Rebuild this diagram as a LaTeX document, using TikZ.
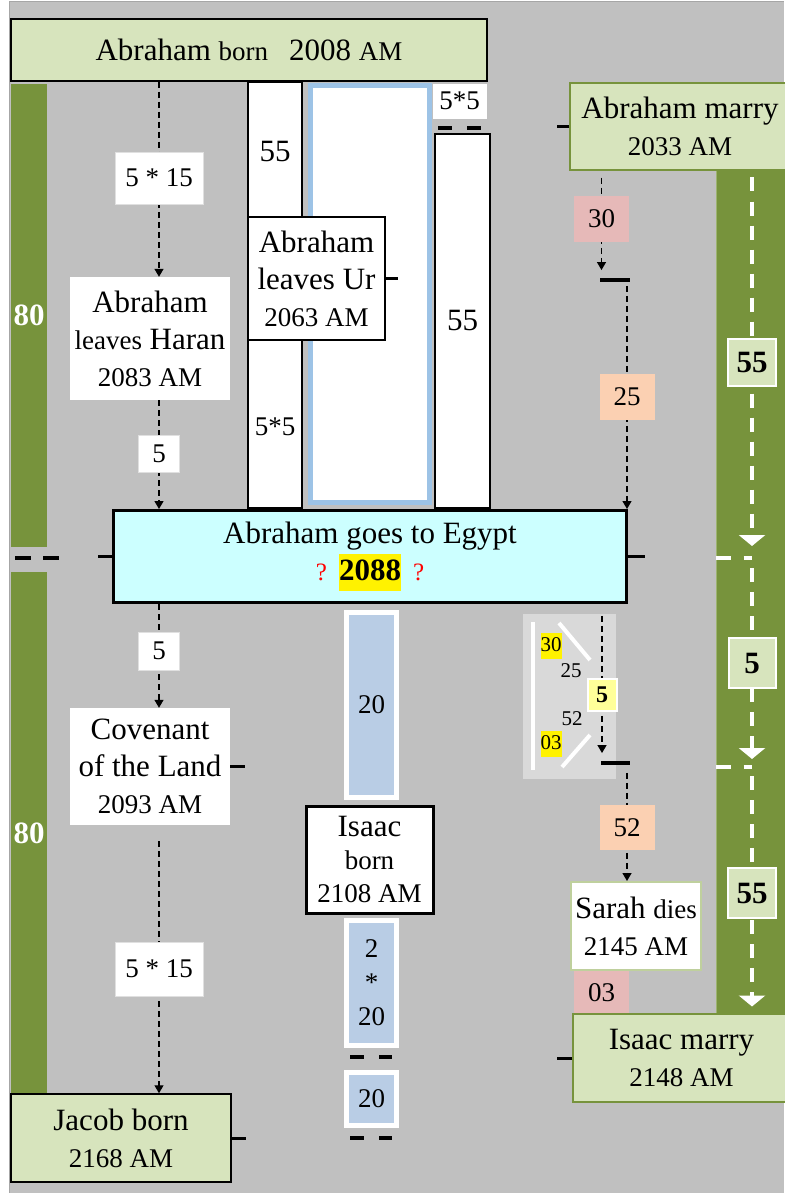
\documentclass[tikz,border=0pt]{standalone}
\usepackage{fontspec}
\setmainfont{Liberation Serif}
\usepackage{xcolor}
\usepackage{tikz}
\usetikzlibrary{positioning,arrows.meta,calc,backgrounds}
\definecolor{paperGray}{HTML}{C0C0C0}
\definecolor{leafGreen}{HTML}{D7E4BD}
\definecolor{oliveBar}{HTML}{77933C}
\definecolor{egyptCyan}{HTML}{CCFFFF}
\definecolor{skyEdge}{HTML}{9DC3E6}
\definecolor{skyFill}{HTML}{B9CDE5}
\definecolor{roseTag}{HTML}{E6B9B8}
\definecolor{peachTag}{HTML}{FBD0B2}
\definecolor{panelGray}{HTML}{D9D9D9}
\definecolor{paleYellow}{HTML}{FFFF99}

\newcommand\fsname{\fontsize{31}{37}\selectfont}
\newcommand\fsminor{\fontsize{27}{37}\selectfont}
\newcommand\fsnote{\fontsize{21}{26}\selectfont}
\newcommand\mn[1]{{\fsminor #1}}
\newcommand\hlt[1]{{\setlength{\fboxsep}{0pt}\colorbox{yellow}{\strut#1}}}
\newcommand\qmark{\textcolor{red}{\fontsize{25}{37}\selectfont ?}}

\begin{document}
\begin{tikzpicture}[x=1pt, y=-1pt,
  evgreen/.style={draw=black, line width=1.5pt, fill=leafGreen, inner sep=0pt, align=center, font=\fsname},
  evwhite/.style={fill=white, inner sep=0pt, align=center, font=\fsname},
  evmarry/.style={draw=oliveBar, line width=1.5pt, fill=leafGreen, inner sep=0pt, align=center, font=\fsname},
  tag/.style={fill=white, draw=black!12, line width=0.8pt, inner sep=0pt, font=\fsminor},
  coltag/.style={fill=#1, inner sep=0pt, font=\fsminor, minimum width=55},
  colbox/.style={draw=black, line width=1.2pt, fill=white, inner sep=0pt},
  skybox/.style={draw=white, line width=5pt, fill=skyFill, inner sep=0pt, align=center, font=\fsminor, minimum width=50},
  bartag/.style={draw=white, line width=2pt, fill=leafGreen, inner sep=0pt, font=\fsname\bfseries},
  greenbar/.style={fill=oliveBar, inner sep=0pt, minimum width=36, text=white, font=\fsname\bfseries},
  markbar/.style={fill=black, inner sep=0pt, minimum height=3.5, minimum width=30},
  darrow/.style={line width=1.3pt, dash pattern=on 6pt off 4pt, -{Triangle[width=9pt,length=8pt]}},
  wdash/.style={white, line width=4pt, dash pattern=on 14pt off 10pt, -{Triangle[width=26pt,length=11pt]}},
  wgap/.style={white, line width=4pt, dash pattern=on 15pt off 13pt},
  wline/.style={white, line width=4pt},
  gapmark/.style={line width=3.5pt, dash pattern=on 14pt off 15pt},
  tickline/.style={line width=3pt}]
  \useasboundingbox (0,0) rectangle (784,1193);

  % left column
  \node[evgreen, minimum width=476, minimum height=62] (born) at (249,50) {Abraham \mn{born}\hspace{21pt}2008 \mn{AM}};
  \node[greenbar, minimum height=463] (barL1) at (29,315.5) {80};
  \node[greenbar, minimum height=522] (barL2) at (29,833) {80};
  \node[evwhite, minimum width=160, minimum height=123] (haran) at (150,338.5) {Abraham\\\mn{leaves} Haran\\\mn{2083 AM}};
  \node[tag, minimum width=88, minimum height=52] (lab515a) at (159,178) {5 * 15};
  \node[tag, minimum width=41, minimum height=37] (lab5a) at (159,453.5) {5};
  \node[draw=black, line width=3pt, fill=egyptCyan, inner sep=0pt, align=center, font=\fsname,
        minimum width=513, minimum height=92] (egypt) at (370,556.5)
        {Abraham goes to Egypt\\\qmark\hspace{12pt}\hlt{\textbf{2088}}\hspace{12pt}\qmark};
  \node[tag, minimum width=41, minimum height=38] (lab5b) at (159,651) {5};
  \node[evwhite, minimum width=160, minimum height=117] (covenant) at (150,766.5) {Covenant\\of the Land\\\mn{2093 AM}};
  \node[tag, minimum width=88, minimum height=54] (lab515b) at (159,969) {5 * 15};
  \node[evgreen, minimum width=220, minimum height=88] (jacob) at (121,1138) {Jacob born\\\mn{2168 AM}};

  % middle columns
  \node[colbox, minimum width=54, minimum height=426] (colA) at (275,295) {};
  \node[draw=skyEdge, line width=5pt, fill=white, inner sep=0pt, minimum width=119, minimum height=417] (skyframe) at (370,294) {};
  \node[font=\fsname] (colAtop) at (275,152) {55};
  \node[font=\fsminor] (colAbot) at (275,427) {5*5};
  \node[colbox, align=center, font=\fsname, minimum width=137, minimum height=123] (ur) at (316.5,278.5) {Abraham\\leaves Ur\\\mn{2063 AM}};
  \node[tag, draw=black!25, minimum width=55, minimum height=36] (tagtop) at (459.5,101) {5*5};
  \node[colbox, font=\fsname, minimum width=55, minimum height=374] (colB) at (462.5,321) {55};

  \node[skybox, minimum height=185] (sky1) at (371.5,705) {20};
  \node[draw=black, line width=3pt, fill=white, inner sep=0pt, align=center, font=\fontsize{31}{33}\selectfont,
        minimum width=127, minimum height=107] (isaacb) at (369.5,859.5) {Isaac\\\mn{born}\\\mn{2108 AM}};
  \node[skybox, font=\fontsize{27}{34}\selectfont, minimum height=125] (sky2) at (371.5,983) {2\\*\\20};
  \node[skybox, minimum height=53] (sky3) at (371.5,1099) {20};

  % right column
  \node[evmarry, minimum width=220, minimum height=87] (marry) at (680,126.5) {Abraham marry\\\mn{2033 AM}};
  \node[coltag=roseTag, minimum height=46] (lab30) at (601.5,219) {30};
  \node[markbar] (mk1) at (615,280) {};
  \node[coltag=peachTag, minimum height=46] (lab25) at (627,397) {25};
  \node[markbar, minimum width=29] (mk2) at (615,763) {};
  \node[coltag=peachTag, minimum height=45] (lab52) at (627,827.5) {52};
  \node[evwhite, draw=leafGreen!75!oliveBar, line width=2pt, minimum width=130, minimum height=88] (sarah) at (636,926) {Sarah \mn{dies}\\\mn{2145 AM}};
  \node[coltag=roseTag, minimum height=43] (lab03) at (601.5,992.5) {03};
  \node[evmarry, minimum width=217, minimum height=88] (isaacm) at (681.5,1058) {Isaac marry\\\mn{2148 AM}};

  \node[bartag, minimum width=48, minimum height=47] (lab55r1) at (752,362) {55};
  \node[bartag, minimum width=47, minimum height=50] (lab5r) at (752,663) {5};
  \node[bartag, minimum width=48, minimum height=50] (lab55r2) at (752,893) {55};

  % small panel
  \node[font=\fsnote] (p30) at (551,646) {\hlt{30}};
  \node[font=\fsnote] (p25) at (571,671) {25};
  \node[draw=white, line width=2pt, fill=paleYellow, inner sep=0pt, font=\fontsize{24}{28}\selectfont\bfseries,
        minimum width=29, minimum height=32] (lab5y) at (602,695) {5};
  \node[font=\fsnote] (p52) at (572,719) {52};
  \node[font=\fsnote] (p03) at (551,744) {\hlt{03}};

  % ticks and gaps
  \draw[tickline] (ur.east) -- ++(12,0);
  \draw[tickline] (egypt.west) -- ++(-14,0);
  \draw[tickline] (egypt.east) -- ++(17,0);
  \draw[tickline] (covenant.east) -- ++(15,0);
  \draw[tickline] (jacob.east) -- ++(14,0);
  \draw[tickline] (marry.west) -- ++(-12,0);
  \draw[tickline] (isaacm.west) -- ++(-15,0);
  \draw[gapmark] (438,128) -- (482,128);
  \draw[gapmark, dash pattern=on 16pt off 12pt] (15,558) -- (59,558);
  \draw[gapmark] (350,1057) -- (392,1057);
  \draw[gapmark] (350,1138) -- (392,1138);

  \begin{scope}[on background layer]
    \fill[white] (0,0) rectangle (784,1193);
    \fill[paperGray] (9,2) rectangle (784,1193);
    \draw[black!35, line width=1pt] (9,1193) -- (9,2) -- (784,2);
    \node[fill=oliveBar, draw=leafGreen!40!oliveBar, line width=1pt, inner sep=0pt,
          minimum width=74, minimum height=844] (barR) at (753,592) {};
    \node[fill=panelGray, inner sep=0pt, minimum width=93, minimum height=165] (panel) at (569.5,696.5) {};
    \draw[wline] (533,622) -- (533,770);
    \draw[wline] (559,623) -- (590,660);
    \draw[wline] (562,767) -- (590,735);

    % dashed links
    \draw[darrow] (born.south -| lab515a) -- (haran.north -| lab515a);
    \draw[darrow] (haran.south -| lab5a) -- (egypt.north -| lab5a);
    \draw[darrow] (egypt.south -| lab5b) -- (covenant.north -| lab5b);
    \draw[darrow, shorten <=16pt] (covenant.south -| lab515b) -- (jacob.north -| lab515b);
    \draw[darrow, shorten <=7pt, shorten >=8pt] (marry.south -| lab30) -- (mk1.north -| lab30);
    \draw[darrow, shorten <=4pt] (mk1.south -| lab25) -- (egypt.north -| lab25);
    \draw[darrow, shorten <=2pt, shorten >=8pt] (panel.north -| lab5y) -- (mk2.north -| lab5y);
    \draw[darrow, shorten <=8pt] (mk2.south -| lab52) -- (sarah.north -| lab52);

    % white spans on the right bar
    \coordinate (wm1) at (752,558);
    \coordinate (wm2) at (752,767);
    \draw[wdash, shorten <=8pt, shorten >=12pt] (barR.north -| lab55r1) -- (wm1);
    \draw[wdash, shorten <=10pt, shorten >=8pt] (wm1) -- (wm2);
    \draw[wdash, shorten <=9pt, shorten >=8pt] (wm2) -- (barR.south -| lab55r2);
    \draw[wgap] (barR.west |- wm1) -- (wm1);
    \draw[wgap] (barR.west |- wm2) -- (wm2);
  \end{scope}
\end{tikzpicture}
\end{document}
